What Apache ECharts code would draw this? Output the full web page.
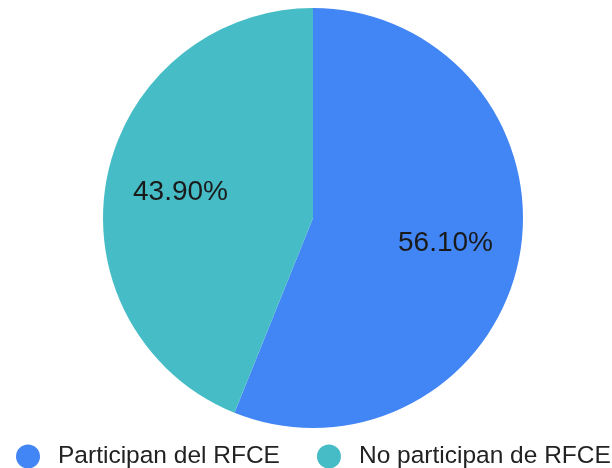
<!DOCTYPE html>
<html><head><meta charset="utf-8">
<script src="https://cdn.jsdelivr.net/npm/echarts@6/dist/echarts.min.js"></script>
<style>html,body{margin:0;padding:0;background:#fff}#c{width:612px;height:468px}</style>
</head><body><div id="c"></div>
<script>
const categories = ['Participan del RFCE', 'No participan de RFCE'];
const values = [56.10, 43.90];
const colors = ['#4285F4', '#46BDC6'];

const FONT = '"Liberation Sans", Arial, sans-serif';
const data = categories.map((n, i) => ({ name: n, value: values[i], itemStyle: { color: colors[i] } }));
const chart = echarts.init(document.getElementById('c'));
chart.setOption({
  animation: false,
  legend: {
    data: categories,
    top: 444,
    left: 16,
    padding: 0,
    icon: 'circle',
    itemWidth: 24,
    itemHeight: 24,
    itemGap: 37,
    textStyle: { fontFamily: FONT, fontSize: 24.5, color: '#222', padding: [0, 0, 0, 13] }
  },
  series: [
    {
      type: 'pie',
      center: [313, 218],
      radius: [0, 210],
      startAngle: 90,
      clockwise: true,
      label: { show: false },
      labelLine: { show: false },
      emphasis: { disabled: true },
      data: data
    },
    {
      type: 'pie',
      silent: true,
      center: [313, 218],
      radius: [54, 210],
      startAngle: 90,
      clockwise: true,
      itemStyle: { color: 'transparent' },
      label: {
        show: true,
        position: 'inside',
        formatter: p => p.value.toFixed(2) + '%',
        fontFamily: FONT,
        fontSize: 28,
        color: '#1a1a1a'
      },
      labelLine: { show: false },
      emphasis: { disabled: true },
      data: categories.map((n, i) => ({ name: n, value: values[i], itemStyle: { color: 'transparent' } }))
    }
  ]
});
</script></body></html>
